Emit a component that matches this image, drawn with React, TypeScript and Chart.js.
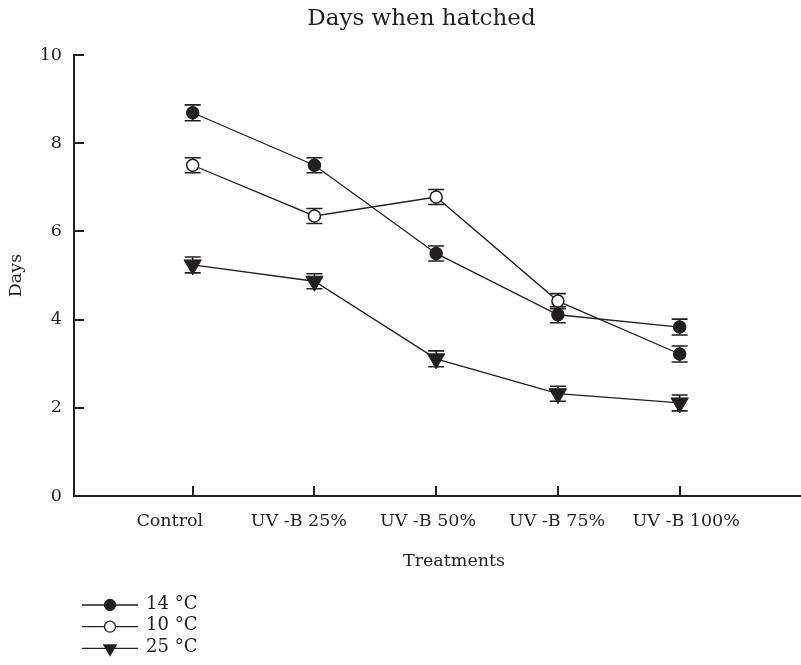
import React, { useEffect, useRef } from 'react';
import { Chart, registerables } from 'chart.js';

Chart.register(...registerables);

// ---- data ----
const categories = ['Control', 'UV -B 25%', 'UV -B 50%', 'UV -B 75%', 'UV -B 100%'];
const seriesLabels = ['14 °C', '10 °C', '25 °C'];
const days14 = [8.69, 7.5, 5.5, 4.11, 3.83];
const days10 = [7.5, 6.35, 6.78, 4.42, 3.22];
const days25 = [5.24, 4.87, 3.11, 2.32, 2.11];
const err14 = [0.18, 0.17, 0.17, 0.18, 0.18];
const err10 = [0.17, 0.17, 0.17, 0.17, 0.18];
const err25 = [0.18, 0.17, 0.18, 0.17, 0.18];
const errors = [err14, err10, err25];
const titleText = 'Days when hatched';
const xTitle = 'Treatments';
const yTitle = 'Days';

const INK = '#231f20';
const FONT = 'DejaVu Serif';

const toPoints = (arr: number[]) => arr.map((v, i) => ({ x: i, y: v }));

const errorBarPlugin = {
  id: 'errorBars',
  beforeDatasetsDraw(chart: any) {
    const ctx = chart.ctx;
    const xs = chart.scales.x;
    const ys = chart.scales.y;
    ctx.save();
    ctx.strokeStyle = INK;
    ctx.lineWidth = 1.6;
    chart.data.datasets.forEach((ds: any, di: number) => {
      const errs = errors[di];
      ds.data.forEach((p: any, i: number) => {
        const x = xs.getPixelForValue(p.x);
        const yt = ys.getPixelForValue(p.y + errs[i]);
        const yb = ys.getPixelForValue(p.y - errs[i]);
        ctx.beginPath();
        ctx.moveTo(x, yt);
        ctx.lineTo(x, yb);
        ctx.moveTo(x - 8, yt);
        ctx.lineTo(x + 8, yt);
        ctx.moveTo(x - 8, yb);
        ctx.lineTo(x + 8, yb);
        ctx.stroke();
      });
    });
    ctx.restore();
  },
};

const legendPlugin = {
  id: 'customLegend',
  afterDraw(chart: any) {
    const ctx = chart.ctx;
    const x1 = 82;
    const x2 = 138;
    const mx = 110;
    const tx = 146;
    const y0 = 605;
    const dy = 21.7;
    ctx.save();
    chart.data.datasets.forEach((ds: any, di: number) => {
      const y = y0 + di * dy;
      ctx.strokeStyle = INK;
      ctx.lineWidth = 1.3;
      ctx.beginPath();
      ctx.moveTo(x1, y);
      ctx.lineTo(x2, y);
      ctx.stroke();
      ctx.lineWidth = 1.3;
      if (ds.pointStyle === 'triangle') {
        const r = 7;
        ctx.fillStyle = INK;
        ctx.beginPath();
        ctx.moveTo(mx, y + r);
        ctx.lineTo(mx - r * 0.866, y - r / 2);
        ctx.lineTo(mx + r * 0.866, y - r / 2);
        ctx.closePath();
        ctx.fill();
        ctx.stroke();
      } else {
        ctx.fillStyle = di === 0 ? INK : '#ffffff';
        ctx.beginPath();
        ctx.arc(mx, y, 5.5, 0, Math.PI * 2);
        ctx.fill();
        ctx.stroke();
      }
      ctx.fillStyle = INK;
      ctx.font = `18px "${FONT}"`;
      ctx.textBaseline = 'middle';
      ctx.textAlign = 'left';
      ctx.fillText(ds.label, tx, y - 1);
    });
    ctx.restore();
  },
};

export default function App() {
  const ref = useRef<HTMLCanvasElement | null>(null);

  useEffect(() => {
    if (!ref.current) return;
    const tickAt = (scale: any) => {
      scale.ticks = categories.map((_, i) => ({ value: i }));
    };
    const chart = new Chart(ref.current, {
      type: 'line',
      data: {
        datasets: [
          {
            label: seriesLabels[0],
            data: toPoints(days14),
            borderColor: INK,
            borderWidth: 1.3,
            pointStyle: 'circle',
            pointRadius: 6,
            pointBorderWidth: 1.5,
            pointBorderColor: INK,
            pointBackgroundColor: INK,
          },
          {
            label: seriesLabels[1],
            data: toPoints(days10),
            borderColor: INK,
            borderWidth: 1.3,
            pointStyle: 'circle',
            pointRadius: 6,
            pointBorderWidth: 1.5,
            pointBorderColor: INK,
            pointBackgroundColor: (c: any) => (c.dataIndex === categories.length - 1 ? INK : '#ffffff'),
          },
          {
            label: seriesLabels[2],
            data: toPoints(days25),
            borderColor: INK,
            borderWidth: 1.3,
            pointStyle: 'triangle',
            rotation: 180,
            pointRadius: 10,
            pointBorderWidth: 1,
            pointBorderColor: INK,
            pointBackgroundColor: INK,
          },
        ] as any,
      },
      options: {
        animation: false,
        responsive: false,
        devicePixelRatio: 1,
        clip: false as any,
        layout: { padding: { left: 6, right: 8, top: 0, bottom: 89 } },
        font: { family: FONT },
        plugins: {
          legend: { display: false },
          tooltip: { enabled: false },
          title: {
            display: true,
            text: titleText,
            color: INK,
            font: { family: FONT, size: 23, weight: 'normal' as any },
            padding: { top: 5, bottom: 22.4 },
          },
        },
        scales: {
          x: {
            type: 'linear',
            position: 'bottom',
            min: -0.975,
            max: 5.268,
            weight: 0,
            afterBuildTicks: tickAt,
            afterFit: (s: any) => {
              s.height = 0;
            },
            ticks: { display: false },
            grid: {
              display: true,
              drawOnChartArea: false,
              drawTicks: true,
              tickLength: -10,
              lineWidth: 2,
              color: INK,
            },
            border: { display: true, width: 2, color: INK },
          },
          x2: {
            type: 'linear',
            position: 'bottom',
            min: -0.742,
            max: 5.145,
            weight: 1,
            afterBuildTicks: tickAt,
            afterFit: (s: any) => {
              s.height = 80;
            },
            ticks: {
              color: INK,
              padding: 7,
              maxRotation: 0,
              autoSkip: false,
              font: { family: FONT, size: 17.5 },
              callback: (v: any) => categories[Math.round(Number(v))] ?? '',
            },
            grid: { display: false },
            border: { display: false },
            title: {
              display: true,
              text: xTitle,
              color: INK,
              font: { family: FONT, size: 17.5 },
              padding: { top: 0, bottom: 3.8 },
            },
          },
          y: {
            type: 'linear',
            position: 'left',
            min: 0,
            max: 10,
            afterFit: (s: any) => {
              s.width = 68;
            },
            ticks: {
              stepSize: 2,
              color: INK,
              padding: 22,
              font: { family: FONT, size: 17.5 },
            },
            grid: {
              display: true,
              drawOnChartArea: false,
              drawTicks: true,
              tickLength: -10,
              lineWidth: 2,
              color: INK,
            },
            border: { display: true, width: 2, color: INK },
            title: {
              display: true,
              text: yTitle,
              color: INK,
              font: { family: FONT, size: 17.5 },
              padding: { top: 0, bottom: 0 },
            },
          },
        },
      } as any,
      plugins: [errorBarPlugin, legendPlugin],
    });
    return () => chart.destroy();
  }, []);

  return (
    <div
      style={{
        position: 'fixed',
        left: 0,
        top: 0,
        width: 801,
        height: 665,
        overflow: 'hidden',
        background: '#ffffff',
      }}
    >
      <canvas ref={ref} width={845} height={665} style={{ width: 845, height: 665, display: 'block' }} />
    </div>
  );
}
